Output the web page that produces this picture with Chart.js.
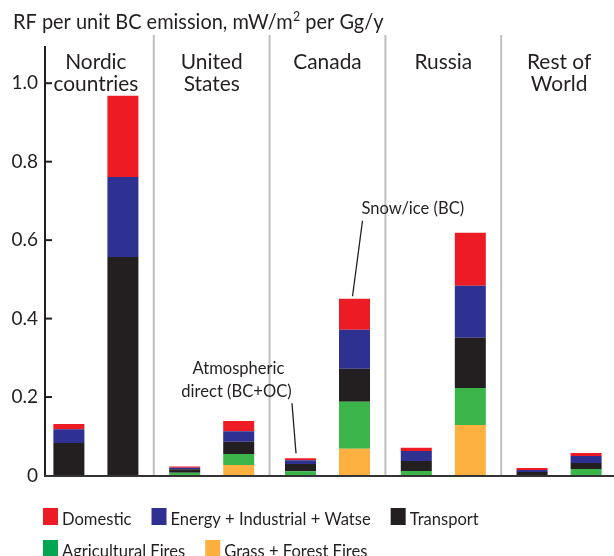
<!DOCTYPE html>
<html><head><meta charset="utf-8">
<script src="https://cdn.jsdelivr.net/npm/chart.js@4/dist/chart.umd.min.js"></script>
<style>
html,body{margin:0;padding:0;background:#fff;overflow:hidden;width:614px;height:556px}
#wrap{position:absolute;left:0;top:0;width:620px;height:556px}
</style></head><body>
<div id="wrap"><canvas id="c"></canvas></div>
<script>
// Regions (two bars each: atmospheric direct, then snow/ice)
const regions = [['Nordic','countries'],['United','States'],['Canada'],['Russia'],['Rest of','World']];
const sectorNames = ['Domestic','Energy + Industrial + Watse','Transport','Agricultural Fires','Grass + Forest Fires'];

// Atmospheric direct (BC+OC), mW/m2 per Gg/y
const domesticDirect  = [0.0135, 0.003, 0.005, 0.008, 0.005];
const energyDirect    = [0.035, 0.004, 0.010, 0.0255, 0.005];
const transportDirect = [0.083, 0.009, 0.018, 0.0255, 0.009];
const agriDirect      = [0, 0.007, 0.011, 0.0115, 0];
const grassDirect     = [0, 0, 0, 0, 0];

// Snow/ice (BC), mW/m2 per Gg/y
const domesticSnow  = [0.207, 0.026, 0.079, 0.135, 0.008];
const energySnow    = [0.204, 0.027, 0.0995, 0.133, 0.018];
const transportSnow = [0.557, 0.031, 0.084, 0.128, 0.015];
const agriSnow      = [0, 0.028, 0.120, 0.094, 0.0166];
const grassSnow     = [0, 0.027, 0.068, 0.129, 0];

const yTicks = [0, 0.2, 0.4, 0.6, 0.8, 1.0];

const RED = '#ED1C24', BLUE = '#2E3192', BLACK = '#231F20', GREEN = '#3BB54A', ORANGE = '#FBB040';
const LEGEND_GREEN = '#00A651';
const INK = '#231F20';
const FONT = 'Lato, "Open Sans", sans-serif';

// bottom-to-top stacking order
const sectors = [
  { name: sectorNames[4], color: ORANGE, direct: grassDirect,     snow: grassSnow },
  { name: sectorNames[3], color: GREEN,  direct: agriDirect,      snow: agriSnow },
  { name: sectorNames[2], color: BLACK,  direct: transportDirect, snow: transportSnow },
  { name: sectorNames[1], color: BLUE,   direct: energyDirect,    snow: energySnow },
  { name: sectorNames[0], color: RED,    direct: domesticDirect,  snow: domesticSnow }
];

const datasets = [];
sectors.forEach(s => {
  datasets.push({ label: s.name, data: s.direct, backgroundColor: s.color, stack: 'direct' });
  datasets.push({ label: s.name, data: s.snow,   backgroundColor: s.color, stack: 'snow' });
});
const TOP_DIRECT = datasets.length - 2, TOP_SNOW = datasets.length - 1;

const legendItems = [
  [{ t: sectorNames[0], c: RED }, { t: sectorNames[1], c: BLUE }, { t: sectorNames[2], c: BLACK }],
  [{ t: sectorNames[3], c: LEGEND_GREEN }, { t: sectorNames[4], c: ORANGE }]
];

function line(ctx, x1, y1, x2, y2, w, col) {
  ctx.save(); ctx.beginPath(); ctx.moveTo(x1, y1); ctx.lineTo(x2, y2);
  ctx.lineWidth = w; ctx.strokeStyle = col; ctx.stroke(); ctx.restore();
}

// text drawn with a slight horizontal condensing; returns the drawn width
function text(ctx, s, x, y, align, size, sx) {
  ctx.save();
  ctx.font = size + 'px ' + FONT;
  ctx.textAlign = align;
  ctx.textBaseline = 'alphabetic';
  ctx.translate(x, y);
  ctx.scale(sx, 1);
  ctx.fillText(s, 0, 0);
  const w = ctx.measureText(s).width * sx;
  ctx.restore();
  return w;
}

const decor = {
  id: 'decor',
  beforeDatasetsDraw(chart) {
    const { ctx, chartArea: a } = chart;
    const step = (a.right - a.left) / regions.length;
    for (let i = 1; i < regions.length; i++) {
      const px = a.left + i * step;
      line(ctx, px, 35, px, a.bottom, 2, '#BDBEC0');
    }
  },
  afterDatasetsDraw(chart) {
    const { ctx, chartArea: a } = chart;
    const y = chart.scales.y, x = chart.scales.x;
    const axisX = 45;
    const y0 = y.getPixelForValue(0);
    // y axis with inward ticks
    line(ctx, axisX, a.top + 2, axisX, y0 + 1, 2, INK);
    yTicks.forEach(v => { if (v > 0) { const py = y.getPixelForValue(v); line(ctx, axisX, py, axisX + 7, py, 2, INK); } });
    // baseline
    line(ctx, axisX - 1, y0 + 0.5, chart.width, y0 + 0.5, 2, '#333333');

    ctx.save();
    ctx.fillStyle = INK;
    // region labels
    regions.forEach((lines, i) => {
      const cx = x.getPixelForValue(i);
      lines.forEach((t, j) => text(ctx, t, cx, 69 + j * 22, 'center', 22, 0.95));
    });

    // title with superscript
    let tx = 13;
    tx += text(ctx, 'RF per unit BC emission, mW/m', tx, 29, 'left', 21, 0.95) + 0.5;
    tx += text(ctx, '2', tx, 21, 'left', 13, 0.95);
    text(ctx, ' per Gg/y', tx, 29, 'left', 21, 0.95);

    // annotations tied to the Canada bars
    const dEl = chart.getDatasetMeta(TOP_DIRECT).data[2];
    const sEl = chart.getDatasetMeta(TOP_SNOW).data[2];
    line(ctx, dEl.x - 8.5, dEl.y - 55, dEl.x - 4.5, dEl.y - 5, 1.3, INK);
    text(ctx, 'Atmospheric', dEl.x - 62, dEl.y - 84, 'center', 18, 0.92);
    text(ctx, 'direct (BC+OC)', dEl.x - 64, dEl.y - 61, 'center', 18, 0.92);
    line(ctx, sEl.x + 8, sEl.y - 78, sEl.x - 2, sEl.y - 2.5, 1.3, INK);
    text(ctx, 'Snow/ice (BC)', sEl.x + 7, sEl.y - 85, 'left', 18, 0.92);

    // legend
    legendItems.forEach((row, r) => {
      let lx = 43;
      const top = 508 + r * 32;
      row.forEach(it => {
        ctx.fillStyle = it.c;
        ctx.fillRect(lx, top, 15, 17);
        ctx.fillStyle = INK;
        const w = text(ctx, it.t, lx + 19, top + 17, 'left', 18, 0.92);
        lx += 19 + w + 20;
      });
    });
    ctx.restore();
  }
};

new Chart(document.getElementById('c'), {
  type: 'bar',
  data: { labels: regions.map(r => r.join(' ')), datasets },
  options: {
    responsive: true,
    maintainAspectRatio: false,
    animation: false,
    devicePixelRatio: 1,
    layout: { padding: { left: 0, right: 3, top: 44, bottom: 80.5 } },
    datasets: { bar: { categoryPercentage: 0.933, barPercentage: 0.574, borderWidth: 0 } },
    plugins: { legend: { display: false }, tooltip: { enabled: false }, title: { display: false } },
    scales: {
      x: { display: false, stacked: true },
      y: {
        stacked: true, min: 0, max: 1.1,
        afterBuildTicks: s => { s.ticks = yTicks.map(v => ({ value: v })); },
        afterFit: s => { s.width = 38; },
        grid: { display: false, drawTicks: false },
        border: { display: false },
        ticks: {
          padding: 0, color: INK,
          font: { family: FONT, size: 19 },
          callback: v => v === 0 ? '0' : v.toFixed(1)
        }
      }
    }
  },
  plugins: [decor]
});
</script>
</body></html>
